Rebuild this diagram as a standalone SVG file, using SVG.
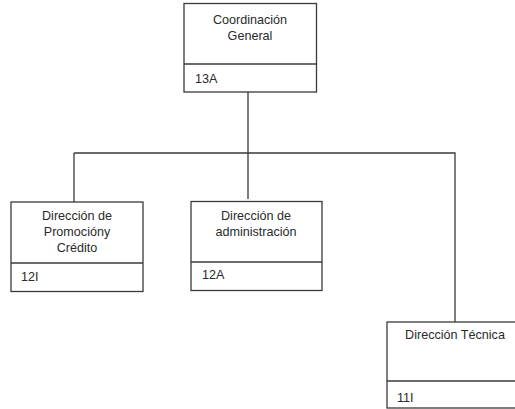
<svg xmlns="http://www.w3.org/2000/svg" width="515" height="409" viewBox="0 0 515 409">
<style>
.box{fill:#fff;stroke:#3a3a3a;stroke-width:1.3}
.ln{fill:none;stroke:#3a3a3a;stroke-width:1.3}
text{font-family:"Liberation Sans",Arial,sans-serif;font-size:12.6px;fill:#2a2a2a}
.c{text-anchor:middle}
</style>
<rect width="515" height="409" fill="#fff"/>
<g id="connectors">
<path class="ln" d="M248 92V199M74 153H455V322M74 153V202"/>
</g>
<g id="coordinacion">
<rect class="box" x="184" y="3.5" width="132.5" height="88.5"/>
<line class="ln" x1="184" y1="64" x2="316.5" y2="64"/>
<text class="c" x="250" y="24">Coordinación</text>
<text class="c" x="250" y="40">General</text>
<text x="195" y="83">13A</text>
</g>
<g id="promocion">
<rect class="box" x="11" y="202" width="132" height="89.5"/>
<line class="ln" x1="11" y1="263" x2="143" y2="263"/>
<text class="c" x="77" y="220">Dirección de</text>
<text class="c" x="77" y="236">Promocióny</text>
<text class="c" x="77" y="252">Crédito</text>
<text x="21" y="281">12I</text>
</g>
<g id="administracion">
<rect class="box" x="191" y="201.5" width="131" height="89"/>
<line class="ln" x1="191" y1="262" x2="322" y2="262"/>
<text class="c" x="256" y="220">Dirección de</text>
<text class="c" x="256" y="236">administración</text>
<text x="202" y="279">12A</text>
</g>
<g id="tecnica">
<rect class="box" x="387" y="322" width="135" height="86"/>
<line class="ln" x1="387" y1="381" x2="515" y2="381"/>
<text class="c" x="455" y="339">Dirección Técnica</text>
<text x="397" y="402">11I</text>
</g>
</svg>
